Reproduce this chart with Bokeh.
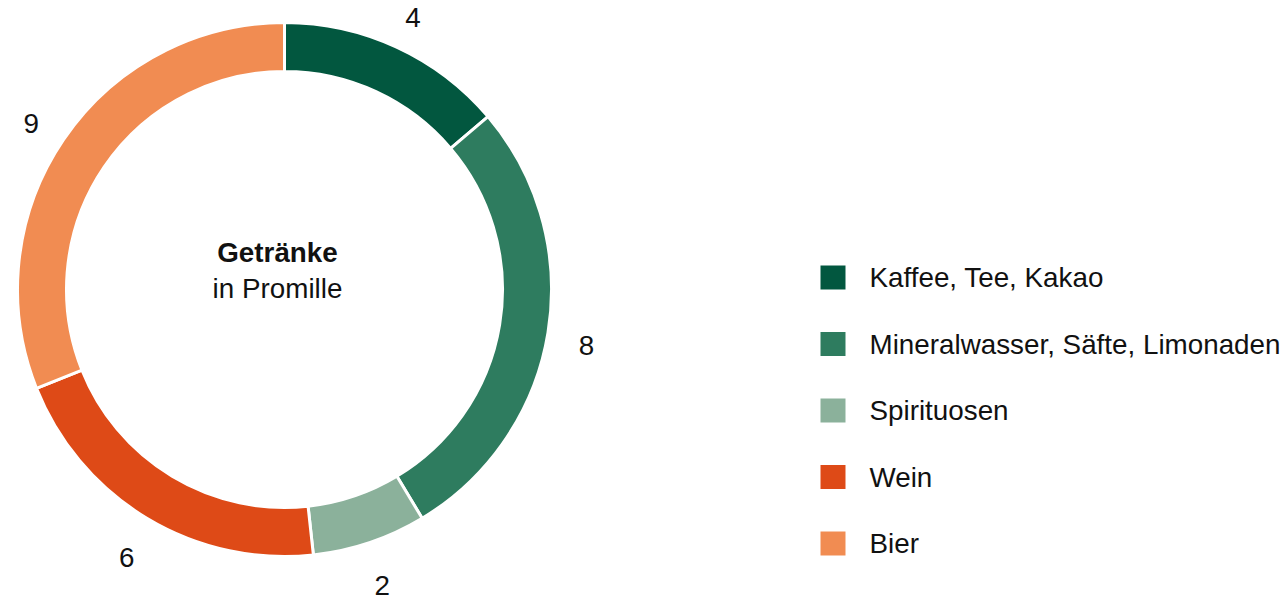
import math
from bokeh.plotting import figure
from bokeh.models import Range1d, ColumnDataSource
from bokeh.core.properties import value
from bokeh.embed import file_html
from bokeh.resources import INLINE

categories = ["Kaffee, Tee, Kakao", "Mineralwasser, Säfte, Limonaden", "Spirituosen", "Wein", "Bier"]
values = [4, 8, 2, 6, 9]
colors = ["#02573f", "#2e7c5f", "#8bb19b", "#de4a17", "#f18c52"]
title_bold = "Getränke"
title_sub = "in Promille"

FONT = value("Liberation Sans")
FS = "27.8px"

W, H = 1286, 601
p = figure(width=W, height=H, output_backend="svg", toolbar_location=None,
           x_range=Range1d(0, W), y_range=Range1d(0, H),
           x_axis_location=None, y_axis_location=None, min_border=0)
p.grid.visible = False
p.outline_line_color = None
p.background_fill_color = "white"
p.border_fill_color = "white"

def sy(s):
    return H - s

cx, cy = 284, sy(289)
R_out, R_in = 267, 218
LABEL_R = 306
LABEL_DY = -6  # labels sit slightly below the radial position
total = sum(values)

starts, ends, lx, ly = [], [], [], []
cum = 0
for v in values:
    a0 = cum / total * 2 * math.pi
    a1 = (cum + v) / total * 2 * math.pi
    starts.append(math.pi / 2 - a0)
    ends.append(math.pi / 2 - a1)
    mid = (a0 + a1) / 2
    lx.append(cx + LABEL_R * math.sin(mid))
    ly.append(cy + LABEL_R * math.cos(mid) + LABEL_DY)
    cum += v

src = ColumnDataSource(dict(start=starts, end=ends, color=colors,
                            lx=lx, ly=ly, lab=[str(v) for v in values]))
p.annular_wedge(x=cx, y=cy, inner_radius=R_in, outer_radius=R_out,
                start_angle="start", end_angle="end", direction="clock",
                fill_color="color", line_color="white", line_width=3, source=src)
p.text(x="lx", y="ly", text="lab", source=src, text_font=FONT, text_font_size=FS,
       text_align="center", text_baseline="middle", text_color="#111111")

# center title
p.text(x=[277], y=[sy(252)], text=[title_bold], text_font=FONT, text_font_size=FS,
       text_font_style="bold", text_align="center", text_baseline="middle", text_color="#111111")
p.text(x=[277], y=[sy(288)], text=[title_sub], text_font=FONT, text_font_size=FS,
       text_align="center", text_baseline="middle", text_color="#111111")

# legend
ys = [sy(277 + i * 66.5) for i in range(len(categories))]
leg = ColumnDataSource(dict(y=ys, color=colors, lab=categories))
p.rect(x=832.5, y="y", width=25, height=24, fill_color="color", line_color=None, source=leg)
p.text(x=869, y="y", text="lab", source=leg, text_font=FONT, text_font_size=FS,
       text_align="left", text_baseline="middle", text_color="#111111")

open("out.html", "w").write(file_html(p, INLINE))
